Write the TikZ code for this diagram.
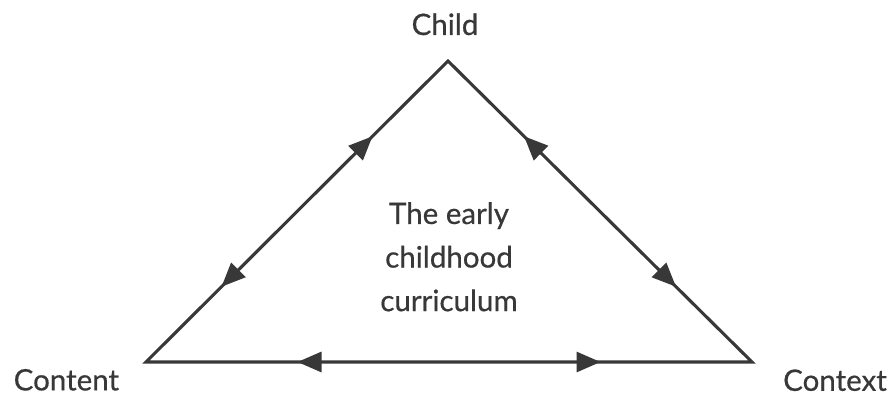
\documentclass[tikz,border=0pt]{standalone}
\usepackage{fontspec}
\newfontfamily\labelfont{Lato}[FakeBold=0.5]
\usetikzlibrary{arrows.meta}
\usetikzlibrary{decorations.markings}
\definecolor{ink}{HTML}{383838}

\begin{document}
\begin{tikzpicture}[line width=2.2pt,
  twoway/.style={postaction={decorate},decoration={markings,
    mark=at position 0.25 with {\arrowreversed{Triangle[length=6mm,width=5mm]}},
    mark=at position 0.75 with {\arrow{Triangle[length=6mm,width=5mm]}}}},
  every node/.style={text=ink,font=\labelfont\fontsize{21}{31}\selectfont}]
  \useasboundingbox (0,0) rectangle (22.325,9.9);

  \coordinate (child) at (11.2,8.375);
  \coordinate (content) at (3.65,0.85);
  \coordinate (context) at (18.8,0.85);

  \node[anchor=base] (childlabel) at (11.125,9.025) {Child};
  \node[anchor=base] (contentlabel) at (1.66,0.14) {Content};
  \node[anchor=base] (contextlabel) at (20.875,0.13) {Context};
  \node[align=center] (curriculum) at (11.225,3.48) {The early\\childhood\\curriculum};

  % triangle, then the two-way arrows on each side
  \draw[ink,line join=miter] (content) -- (child) -- (context) -- cycle;
  \path[ink,twoway] (content) -- (child);
  \path[ink,twoway] (context) -- (child);
  \path[ink,twoway] (content) -- (context);
\end{tikzpicture}
\end{document}
